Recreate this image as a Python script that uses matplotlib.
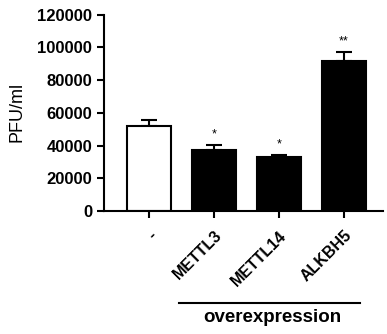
import matplotlib
matplotlib.use('Agg')
import matplotlib.pyplot as plt
import numpy as np

plt.rcParams['font.family'] = ['Liberation Sans', 'DejaVu Sans']

categories = ['-', 'METTL3', 'METTL14', 'ALKBH5']
values = [51800, 37600, 32900, 92000]
errors = [3600, 3000, 1600, 5500]
stars = ['', '*', '*', '**']
colors = ['white', 'black', 'black', 'black']
yticks = [0, 20000, 40000, 60000, 80000, 100000, 120000]

fig = plt.figure(figsize=(3.87, 3.34), dpi=100)
ax = fig.add_axes([0.269, 0.368, 0.721, 0.588])

x = np.arange(len(categories))
ax.bar(x, values, width=0.68, color=colors, edgecolor='black', linewidth=1.5, zorder=2)
ax.errorbar(x, values, yerr=[np.zeros(len(errors)), errors], fmt='none',
            ecolor='black', elinewidth=1.5, capsize=6, capthick=1.5, zorder=1)
for xi, v, e, s in zip(x, values, errors, stars):
    if s:
        ax.text(xi, v + e + 2500, s, ha='center', va='bottom', fontsize=9)

ax.set_ylim(0, 120000)
ax.set_xlim(-0.69, 3.6)
ax.set_yticks(yticks)
ax.set_yticklabels([str(t) for t in yticks], fontsize=12, fontweight='bold')
ax.set_xticks(x)
ax.set_xticklabels(categories, rotation=45, ha='right', rotation_mode='anchor',
                   fontsize=11.5, fontweight='bold')
ax.tick_params(axis='x', pad=7)
ax.set_ylabel('PFU/ml', fontsize=13)
ax.yaxis.set_label_coords(-0.28, 0.504)

for side in ['top', 'right']:
    ax.spines[side].set_visible(False)
for side in ['left', 'bottom']:
    ax.spines[side].set_linewidth(1.5)
ax.tick_params(width=1.5, length=5)

# group bracket under the overexpression bars
fig.add_artist(plt.Line2D([179 / 387, 360 / 387], [1 - 303 / 334, 1 - 303 / 334],
                          color='black', linewidth=1.5))
fig.text(272 / 387, 1 - 318 / 334, 'overexpression', ha='center', va='center',
         fontsize=13.5, fontweight='bold')

fig.savefig('out.png', dpi=100)
